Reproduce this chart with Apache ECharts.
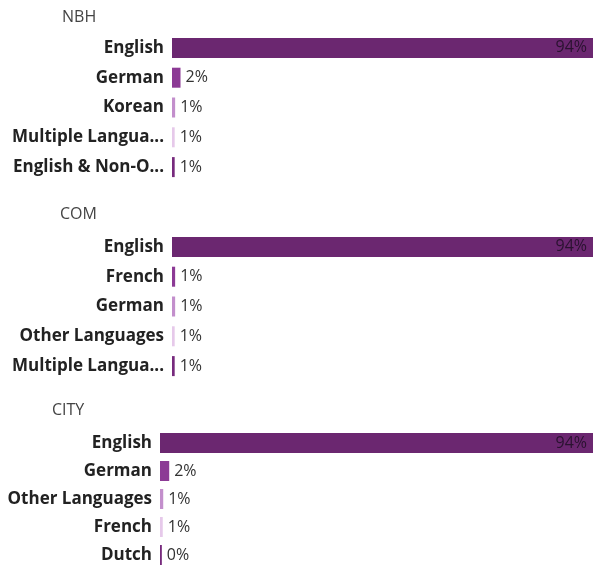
<!DOCTYPE html>
<html>
<head>
<meta charset="utf-8">
<script src="https://cdn.jsdelivr.net/npm/echarts@6/dist/echarts.min.js"></script>
<style>
  html, body { margin: 0; padding: 0; background: #fff; }
  #chart { width: 593px; height: 569px; }
</style>
</head>
<body>
<div id="chart"></div>
<script>
// panel names
const groups = ['NBH', 'COM', 'CITY']

// categories per panel (top to bottom)
const nbhCats = ['English', 'German', 'Korean', 'Multiple Langua...', 'English & Non-O...']
const comCats = ['English', 'French', 'German', 'Other Languages', 'Multiple Langua...']
const cityCats = ['English', 'German', 'Other Languages', 'French', 'Dutch']

// percentages
const nbhVals = [94, 1.9, 0.7, 0.6, 0.6]
const comVals = [94, 0.7, 0.7, 0.6, 0.6]
const cityVals = [94, 2.0, 0.7, 0.6, 0.4]

// colour by rank in each panel
const rankColors = ['#6b2770', '#8c3a95', '#c38fcc', '#e6c9ea', '#772a7d']

const cats = [nbhCats, comCats, cityCats]
const vals = [nbhVals, comVals, cityVals]

// layout
const gridTops = [33, 232, 429]
const gridLefts = [172, 172, 160]
const titlePos = [[62, 9], [60, 206], [52, 402]]

let mycharts = echarts.init(document.getElementById('chart'))

let option = {
  animation: false,
  textStyle: { fontFamily: 'Open Sans' },
  title: groups.map((g, i) => ({
    text: g,
    left: titlePos[i][0],
    top: titlePos[i][1],
    padding: 0,
    textStyle: { fontSize: 16, fontWeight: 'normal', color: '#444', fontFamily: 'Open Sans' },
  })),
  grid: groups.map((g, i) => ({
    left: gridLefts[i],
    right: 0,
    top: gridTops[i],
    height: 149,
    containLabel: false,
  })),
  xAxis: groups.map((g, i) => ({
    type: 'value',
    gridIndex: i,
    min: 0,
    max: 'dataMax',
    show: false,
  })),
  yAxis: groups.map((g, i) => ({
    type: 'category',
    gridIndex: i,
    inverse: true,
    data: cats[i],
    axisLine: { show: false },
    axisTick: { show: false },
    splitLine: { show: false },
    axisLabel: {
      margin: 8,
      fontSize: 17,
      fontWeight: 'bold',
      color: '#222',
      fontFamily: 'Open Sans',
    },
  })),
  series: groups.map((g, i) => ({
    type: 'bar',
    name: g,
    xAxisIndex: i,
    yAxisIndex: i,
    barWidth: 20,
    data: vals[i].map((v, j) => ({
      value: v,
      itemStyle: { color: rankColors[j] },
      label: j === 0
        ? { position: 'insideRight', color: '#2a1230', distance: 6 }
        : { position: 'right', color: '#333', distance: 5 },
    })),
    label: {
      show: true,
      fontSize: 16,
      fontFamily: 'Open Sans',
      formatter: (p) => Math.round(p.value) + '%',
    },
  })),
}

mycharts.setOption(option)
</script>
</body>
</html>
